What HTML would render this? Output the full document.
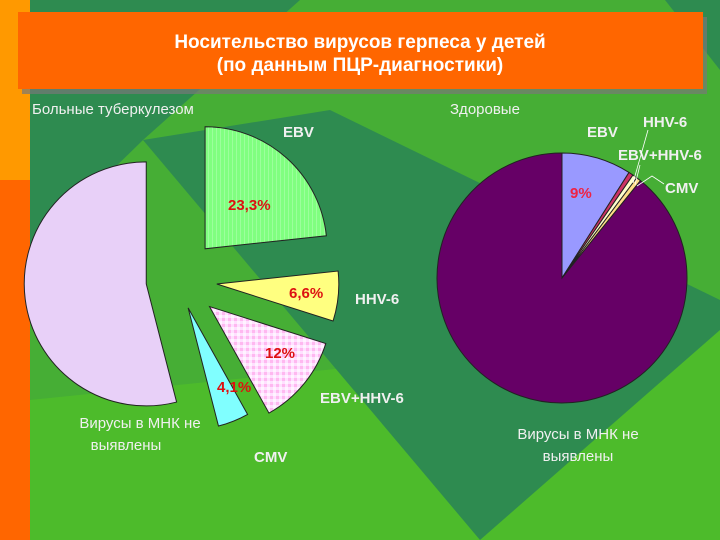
<!DOCTYPE html>
<html><head><meta charset="utf-8"><style>
html,body{margin:0;padding:0;width:720px;height:540px;overflow:hidden;background:#46ae35}
svg{display:block}
text{font-family:"Liberation Sans",Arial,sans-serif}
</style></head><body>
<svg id="s" width="720" height="540" xmlns="http://www.w3.org/2000/svg">
<defs>
<pattern id="stripes" width="4" height="4" patternUnits="userSpaceOnUse"><rect width="4" height="4" fill="#80ff80"/><rect width="1" height="4" fill="#9cff9c"/></pattern>
<pattern id="check" width="6" height="6" patternUnits="userSpaceOnUse"><rect width="6" height="6" fill="#ffe0ff"/><rect width="3" height="3" fill="#ffb8f0"/><rect x="3" y="3" width="3" height="3" fill="#fff4ff"/></pattern>
</defs>
<rect x="0" y="0" width="720" height="540" fill="#46ae35"/>
<polygon points="30,400 720,330 720,540 30,540" fill="#4dbb2b"/>
<polygon points="30,0 300,0 143,140 30,250" fill="#2e8b50"/>
<polygon points="143,140 330,110 720,300 720,330 480,540" fill="#2e8b50"/>
<polygon points="665,0 720,0 720,70" fill="#2e8b50"/>
<rect x="0" y="0" width="30" height="180" fill="#ff9900"/>
<rect x="0" y="180" width="30" height="360" fill="#ff6600"/>
<rect x="22" y="17" width="685" height="77" fill="#777" opacity="0.7"/>
<rect x="18" y="12" width="685" height="77" fill="#ff6600"/>
<text x="360" y="48" text-anchor="middle" font-size="19" font-weight="bold" fill="#fff">Носительство вирусов герпеса у детей</text>
<text x="360" y="71" text-anchor="middle" font-size="19" font-weight="bold" fill="#fff">(по данным ПЦР-диагностики)</text>
<text x="32" y="114" font-size="15" fill="#f0f0f0">Больные туберкулезом</text>
<text x="450" y="114" font-size="15" fill="#f0f0f0">Здоровые</text>
<g id="left"></g><g id="right"></g>
<g fill="#f0f0f0" font-size="15" font-weight="bold">
<text x="283" y="137">EBV</text>
<text x="355" y="304">HHV-6</text>
<text x="320" y="403">EBV+HHV-6</text>
<text x="254" y="462">CMV</text>
<text x="587" y="137">EBV</text>
<text x="643" y="127">HHV-6</text>
<text x="618" y="160">EBV+HHV-6</text>
<text x="665" y="193">CMV</text>
</g>
<g fill="#f0f0f0" font-size="15" text-anchor="middle">
<text x="140" y="428">Вирусы в МНК не</text>
<text x="126" y="450">выявлены</text>
<text x="578" y="439">Вирусы в МНК не</text>
<text x="578" y="461">выявлены</text>
</g>
<g stroke="#fff" stroke-width="0.8" fill="none">
<polyline points="633,183 648,130"/>
<polyline points="635,185 640,165"/>
<polyline points="637,186 652,176 664,184"/>
</g>
<g fill="#dd1111" font-size="15" font-weight="bold">
<text x="228" y="210">23,3%</text>
<text x="289" y="298">6,6%</text>
<text x="265" y="358">12%</text>
<text x="217" y="392">4,1%</text>
<text x="570" y="198" fill="#ee2244">9%</text>
</g>
</svg>
<script>
const leftCategories=["EBV","HHV-6","EBV+HHV-6","CMV","none"];
const leftValues=[23.3,6.6,12,4.1,54];
const leftExplode=[42,40,42,30,31];
const rightCategories=["EBV","HHV-6","EBV+HHV-6","CMV","none"];
const rightValues=[9,0.6,0.6,0.6,89.2];
const leftFills=["url(#stripes)","#ffff80","url(#check)","#80ffff","#e8d0f8"];
const rightFills=["#9999ff","#cc3366","#ffffcc","#ffdd88","#660066"];
function pie(gid,vals,fills,cx,cy,r,expl,prefix){
  const g=document.getElementById(gid);
  const tot=vals.reduce((a,b)=>a+b,0);
  let a0=0;
  vals.forEach((v,i)=>{
    const a1=a0+v/tot*2*Math.PI, mid=(a0+a1)/2;
    const d=expl?expl[i]:0;
    const ox=cx+d*Math.sin(mid), oy=cy-d*Math.cos(mid);
    const x0=ox+r*Math.sin(a0), y0=oy-r*Math.cos(a0);
    const x1=ox+r*Math.sin(a1), y1=oy-r*Math.cos(a1);
    const large=(a1-a0)>Math.PI?1:0;
    const p=document.createElementNS("http://www.w3.org/2000/svg","path");
    p.setAttribute("d",`M${ox},${oy}L${x0},${y0}A${r},${r} 0 ${large} 1 ${x1},${y1}Z`);
    p.setAttribute("fill",fills[i]);
    p.setAttribute("stroke","#222");
    p.setAttribute("stroke-width","1");
    
    
    g.appendChild(p);
    a0=a1;
  });
}
pie("left",leftValues,leftFills,177,280,122,leftExplode,"left");
pie("right",rightValues,rightFills,562,278,125,null,"right");
</script>
</body></html>
